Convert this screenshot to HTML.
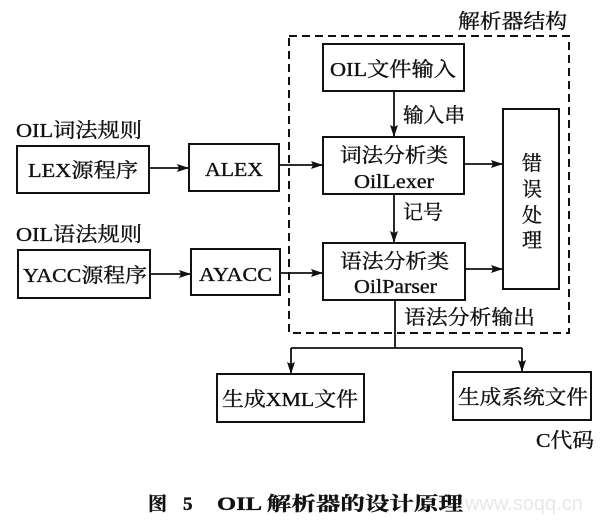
<!DOCTYPE html>
<html><head><meta charset="utf-8"><style>
html,body{margin:0;padding:0;background:#fff;}
svg{display:block;}
text{font-family:"Liberation Serif","Noto Serif CJK SC",serif;fill:#111;stroke:#111;stroke-width:0.35;}
.b{font-weight:bold;}
.wm{fill:#e8e8e8;stroke:none;font-family:"Liberation Sans",sans-serif;}
</style></head><body>
<svg width="611" height="526" viewBox="0 0 611 526" xmlns="http://www.w3.org/2000/svg">
<defs>
<marker id="ah" markerWidth="12" markerHeight="8" refX="12" refY="4" orient="auto" markerUnits="userSpaceOnUse">
<path d="M0,0 L12,4 L0,8 L2,4 Z" fill="#111"/>
</marker>
</defs>
<g fill="none" stroke="#111" stroke-width="2">
<rect x="289" y="36" width="280" height="297" stroke-dasharray="8 5"/>
<rect x="17" y="146" width="132" height="47"/>
<rect x="189" y="144" width="90" height="47"/>
<rect x="18" y="250" width="132" height="48"/>
<rect x="191" y="249" width="89" height="46"/>
<rect x="323" y="44" width="141" height="47"/>
<rect x="323" y="137" width="141" height="57"/>
<rect x="323" y="243" width="142" height="57"/>
<rect x="503" y="109" width="56" height="180"/>
<rect x="217" y="374" width="147" height="48"/>
<rect x="453" y="372" width="138" height="48"/>
</g>
<g fill="none" stroke="#111" stroke-width="1.8">
<line x1="149" y1="168" x2="189" y2="168" marker-end="url(#ah)"/>
<line x1="150" y1="274" x2="191" y2="274" marker-end="url(#ah)"/>
<line x1="279" y1="165" x2="323" y2="165" marker-end="url(#ah)"/>
<line x1="280" y1="273" x2="323" y2="273" marker-end="url(#ah)"/>
<line x1="394" y1="91" x2="394" y2="137" marker-end="url(#ah)"/>
<line x1="394" y1="194" x2="394" y2="243" marker-end="url(#ah)"/>
<line x1="464" y1="164" x2="503" y2="164" marker-end="url(#ah)"/>
<line x1="465" y1="269" x2="503" y2="269" marker-end="url(#ah)"/>
<line x1="395" y1="300" x2="395" y2="348"/>
<line x1="291" y1="348" x2="522" y2="348"/>
<line x1="291" y1="348" x2="291" y2="374" marker-end="url(#ah)"/>
<line x1="522" y1="348" x2="522" y2="372" marker-end="url(#ah)"/>
</g>
<text x="16" y="137" font-size="20" textLength="126" lengthAdjust="spacingAndGlyphs">OIL词法规则</text>
<text x="16" y="241" font-size="20" textLength="126" lengthAdjust="spacingAndGlyphs">OIL语法规则</text>
<text x="28" y="177" font-size="20" textLength="110" lengthAdjust="spacingAndGlyphs">LEX源程序</text>
<text x="205" y="176" font-size="20" textLength="58" lengthAdjust="spacingAndGlyphs">ALEX</text>
<text x="23" y="282" font-size="20" textLength="124" lengthAdjust="spacingAndGlyphs">YACC源程序</text>
<text x="199" y="281" font-size="20" textLength="73" lengthAdjust="spacingAndGlyphs">AYACC</text>
<text x="458" y="28" font-size="20" textLength="109" lengthAdjust="spacingAndGlyphs">解析器结构</text>
<text x="330" y="76" font-size="20" textLength="126" lengthAdjust="spacingAndGlyphs">OIL文件输入</text>
<text x="403" y="122" font-size="20" textLength="62" lengthAdjust="spacingAndGlyphs">输入串</text>
<text x="340" y="162" font-size="20" textLength="108" lengthAdjust="spacingAndGlyphs">词法分析类</text>
<text x="354" y="188" font-size="20" textLength="80" lengthAdjust="spacingAndGlyphs">OilLexer</text>
<text x="403" y="219" font-size="20" textLength="40" lengthAdjust="spacingAndGlyphs">记号</text>
<text x="340" y="268" font-size="20" textLength="109" lengthAdjust="spacingAndGlyphs">语法分析类</text>
<text x="354" y="293" font-size="20" textLength="83" lengthAdjust="spacingAndGlyphs">OilParser</text>
<text x="532" y="170" font-size="20" text-anchor="middle">错</text>
<text x="532" y="196" font-size="20" text-anchor="middle">误</text>
<text x="532" y="222" font-size="20" text-anchor="middle">处</text>
<text x="532" y="247" font-size="20" text-anchor="middle">理</text>
<text x="404" y="324" font-size="20" textLength="131" lengthAdjust="spacingAndGlyphs">语法分析输出</text>
<text x="222" y="406" font-size="20" textLength="136" lengthAdjust="spacingAndGlyphs">生成XML文件</text>
<text x="458" y="404" font-size="20" textLength="130" lengthAdjust="spacingAndGlyphs">生成系统文件</text>
<text x="536" y="447" font-size="20" textLength="58" lengthAdjust="spacingAndGlyphs">C代码</text>
<text x="148" y="510" font-size="19" class="b">图</text>
<text x="183" y="510" font-size="19" class="b">5</text>
<text x="217" y="510" font-size="19" class="b" textLength="246" lengthAdjust="spacingAndGlyphs">OIL 解析器的设计原理</text>
<text x="465" y="510" font-size="20" class="wm">www.soqq.cn</text>
</svg>
</body></html>
